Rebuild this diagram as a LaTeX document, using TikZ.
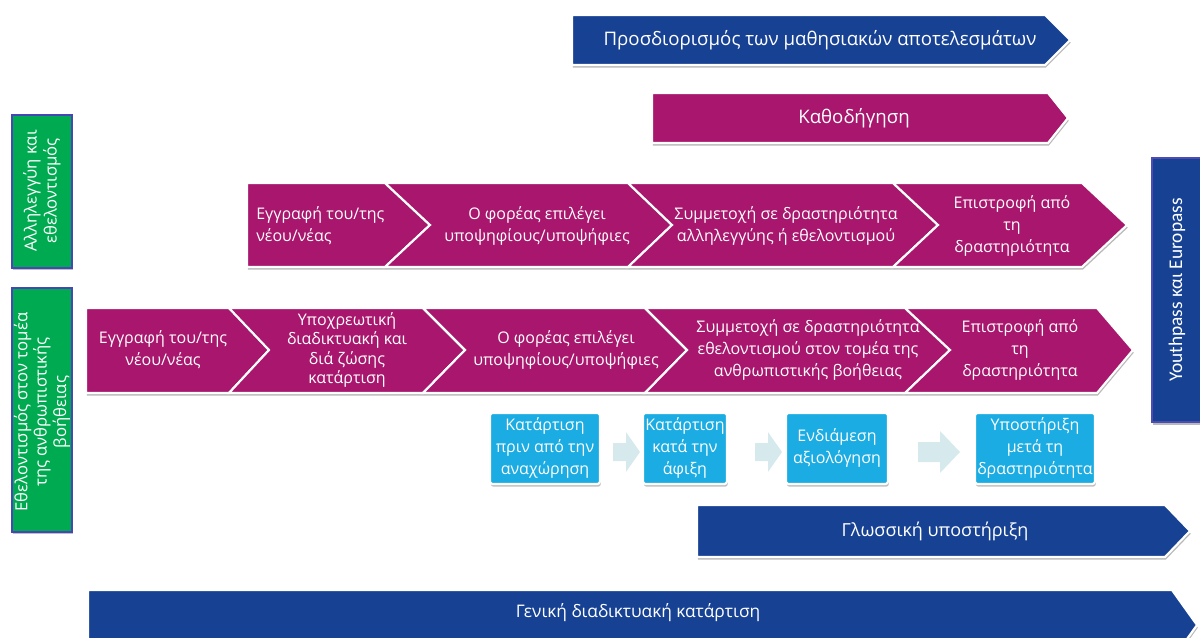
\documentclass[tikz,border=0pt]{standalone}
\usepackage{fontspec}
\setmainfont{Open Sans}
\newfontfamily\calib{Carlito}
\usetikzlibrary{shadows}
\definecolor{dblue}{RGB}{23,66,148}
\definecolor{mag}{RGB}{168,22,110}
\definecolor{grn}{RGB}{0,170,80}
\definecolor{cyanb}{RGB}{26,172,226}
\definecolor{lgray}{RGB}{214,234,238}
\begin{document}
\begin{tikzpicture}[x=0.75pt,y=-0.75pt,
  shp/.style={draw=white, line width=1.6pt, line join=miter,
    drop shadow={shadow xshift=0.6pt, shadow yshift=-2pt, fill=black!50, opacity=0.55}},
  magshp/.style={shp, fill=mag},
  blueshp/.style={shp, fill=dblue},
  txt/.style={text=white, align=center, inner sep=0pt, font=\fontsize{12}{16.5}\selectfont},
  bigtxt/.style={text=white, align=center, inner sep=0pt, font=\fontsize{14}{16}\selectfont},
  boxtxt/.style={text=white, align=center, inner sep=0pt, font=\fontsize{12}{16.5}\selectfont},
  sidetxt/.style={text=white, align=center, inner sep=0pt, rotate=90, font=\fontsize{12.5}{15}\selectfont},
  greenbox/.style={fill=grn, draw=blue!45!gray, line width=0.8pt,
    drop shadow={shadow xshift=0.6pt, shadow yshift=-1.5pt, fill=black!50, opacity=0.5}},
  cyanbox/.style={fill=cyanb, draw=white, line width=1.6pt, rounded corners=2pt,
    drop shadow={shadow xshift=0.6pt, shadow yshift=-2pt, fill=black!50, opacity=0.5}},
  larrow/.style={fill=lgray, draw=none}
]
\useasboundingbox (0,0) rectangle (1200,638);

% top blue arrow
\path[blueshp] (572,15) -- (1045,15) -- (1070,40) -- (1045,65) -- (572,65) -- cycle;
\node[bigtxt] (t1) at (820,40) {Προσδιορισμός των μαθησιακών αποτελεσμάτων};

% mentoring
\path[magshp] (652,93) -- (1048,93) -- (1068,118) -- (1048,143) -- (652,143) -- cycle;
\node[bigtxt] (t2) at (854,118) {Καθοδήγηση};

% row 1
\path[magshp] (247,183) -- (385,183) -- (430,225) -- (385,267) -- (247,267) -- cycle;
\path[magshp] (385,183) -- (628,183) -- (672,225) -- (628,267) -- (385,267) -- (430,225) -- cycle;
\path[magshp] (628,183) -- (893,183) -- (938,225) -- (893,267) -- (628,267) -- (672,225) -- cycle;
\path[magshp] (893,183) -- (1082,183) -- (1127,225) -- (1082,267) -- (893,267) -- (938,225) -- cycle;
\node[txt, align=left, anchor=west] (r1a) at (256,226) {Εγγραφή του/της\\ νέου/νέας};
\node[txt] (r1b) at (537,226) {Ο φορέας επιλέγει\\υποψηφίους/υποψήφιες};
\node[txt] (r1c) at (786,226) {Συμμετοχή σε δραστηριότητα\\αλληλεγγύης ή εθελοντισμού};
\node[txt] (r1d) at (1012,226) {Επιστροφή από\\τη\\δραστηριότητα};

% row 2
\path[magshp] (86,308) -- (229,308) -- (269,350) -- (229,393) -- (86,393) -- cycle;
\path[magshp] (229,308) -- (423,308) -- (465,350) -- (423,393) -- (229,393) -- (269,350) -- cycle;
\path[magshp] (423,308) -- (645,308) -- (687,350) -- (645,393) -- (423,393) -- (465,350) -- cycle;
\path[magshp] (645,308) -- (905,308) -- (950,350) -- (905,393) -- (645,393) -- (687,350) -- cycle;
\path[magshp] (905,308) -- (1097,308) -- (1133,350) -- (1097,393) -- (905,393) -- (950,350) -- cycle;
\node[txt] (r2a) at (163,350) {Εγγραφή του/της\\νέου/νέας};
\node[txt, font=\fontsize{12}{14.5}\selectfont] (r2b) at (347,350) {Υποχρεωτική\\διαδικτυακή και\\διά ζώσης\\κατάρτιση};
\node[txt] (r2c) at (566,350) {Ο φορέας επιλέγει\\υποψηφίους/υποψήφιες};
\node[txt] (r2d) at (808,350) {Συμμετοχή σε δραστηριότητα\\εθελοντισμού στον τομέα της\\ανθρωπιστικής βοήθειας};
\node[txt] (r2e) at (1020,350) {Επιστροφή από\\τη\\δραστηριότητα};

% training boxes
\path[larrow] (613,443) -- (626,443) -- (626,432) -- (640,452) -- (626,472) -- (626,461) -- (613,461) -- cycle;
\path[larrow] (755,443) -- (768,443) -- (768,432) -- (782,452) -- (768,472) -- (768,461) -- (755,461) -- cycle;
\path[larrow] (918,442) -- (940,442) -- (940,431) -- (960,452) -- (940,473) -- (940,462) -- (918,462) -- cycle;
\path[cyanbox] (490,413) rectangle (600,484);
\path[cyanbox] (643,413) rectangle (727,484);
\path[cyanbox] (786,413) rectangle (888,484);
\path[cyanbox] (975,413) rectangle (1095,484);
\node[boxtxt] (b1) at (545,448) {Κατάρτιση\\πριν από την\\αναχώρηση};
\node[boxtxt] (b2) at (685,448) {Κατάρτιση\\κατά την\\άφιξη};
\node[boxtxt] (b3) at (837,448) {Ενδιάμεση\\αξιολόγηση};
\node[boxtxt] (b4) at (1035,448) {Υποστήριξη\\μετά τη\\δραστηριότητα};

% language support
\path[blueshp] (697,505) -- (1165,505) -- (1190,531) -- (1165,557) -- (697,557) -- cycle;
\node[bigtxt, font=\fontsize{13.5}{16}\selectfont] (t3) at (935,531) {Γλωσσική υποστήριξη};

% general online training
\path[blueshp] (88,590) -- (1172,590) -- (1197,625) -- (1172,660) -- (88,660) -- cycle;
\node[bigtxt, font=\fontsize{13}{16}\selectfont] (t4) at (638,613) {Γενική διαδικτυακή κατάρτιση};

% side boxes
\path[greenbox] (12,115) rectangle (72,268);
\node[sidetxt] (g1) at (42,191) {Αλληλεγγύη και\\εθελοντισμός};
\path[greenbox] (12,288) rectangle (72,532);
\node[sidetxt, font=\fontsize{12.5}{14.5}\selectfont] (g2) at (42,412) {Εθελοντισμός στον τομέα\\της ανθρωπιστικής\\βοήθειας};

\path[shp, fill=dblue, line width=0.8pt, draw=blue!40!gray] (1152,158) rectangle (1206,422);
\node[text=white, rotate=90, inner sep=0pt, font=\calib\fontsize{14.5}{16}\selectfont] (yp) at (1177,290) {Youthpass και Europass};
\end{tikzpicture}
\end{document}
